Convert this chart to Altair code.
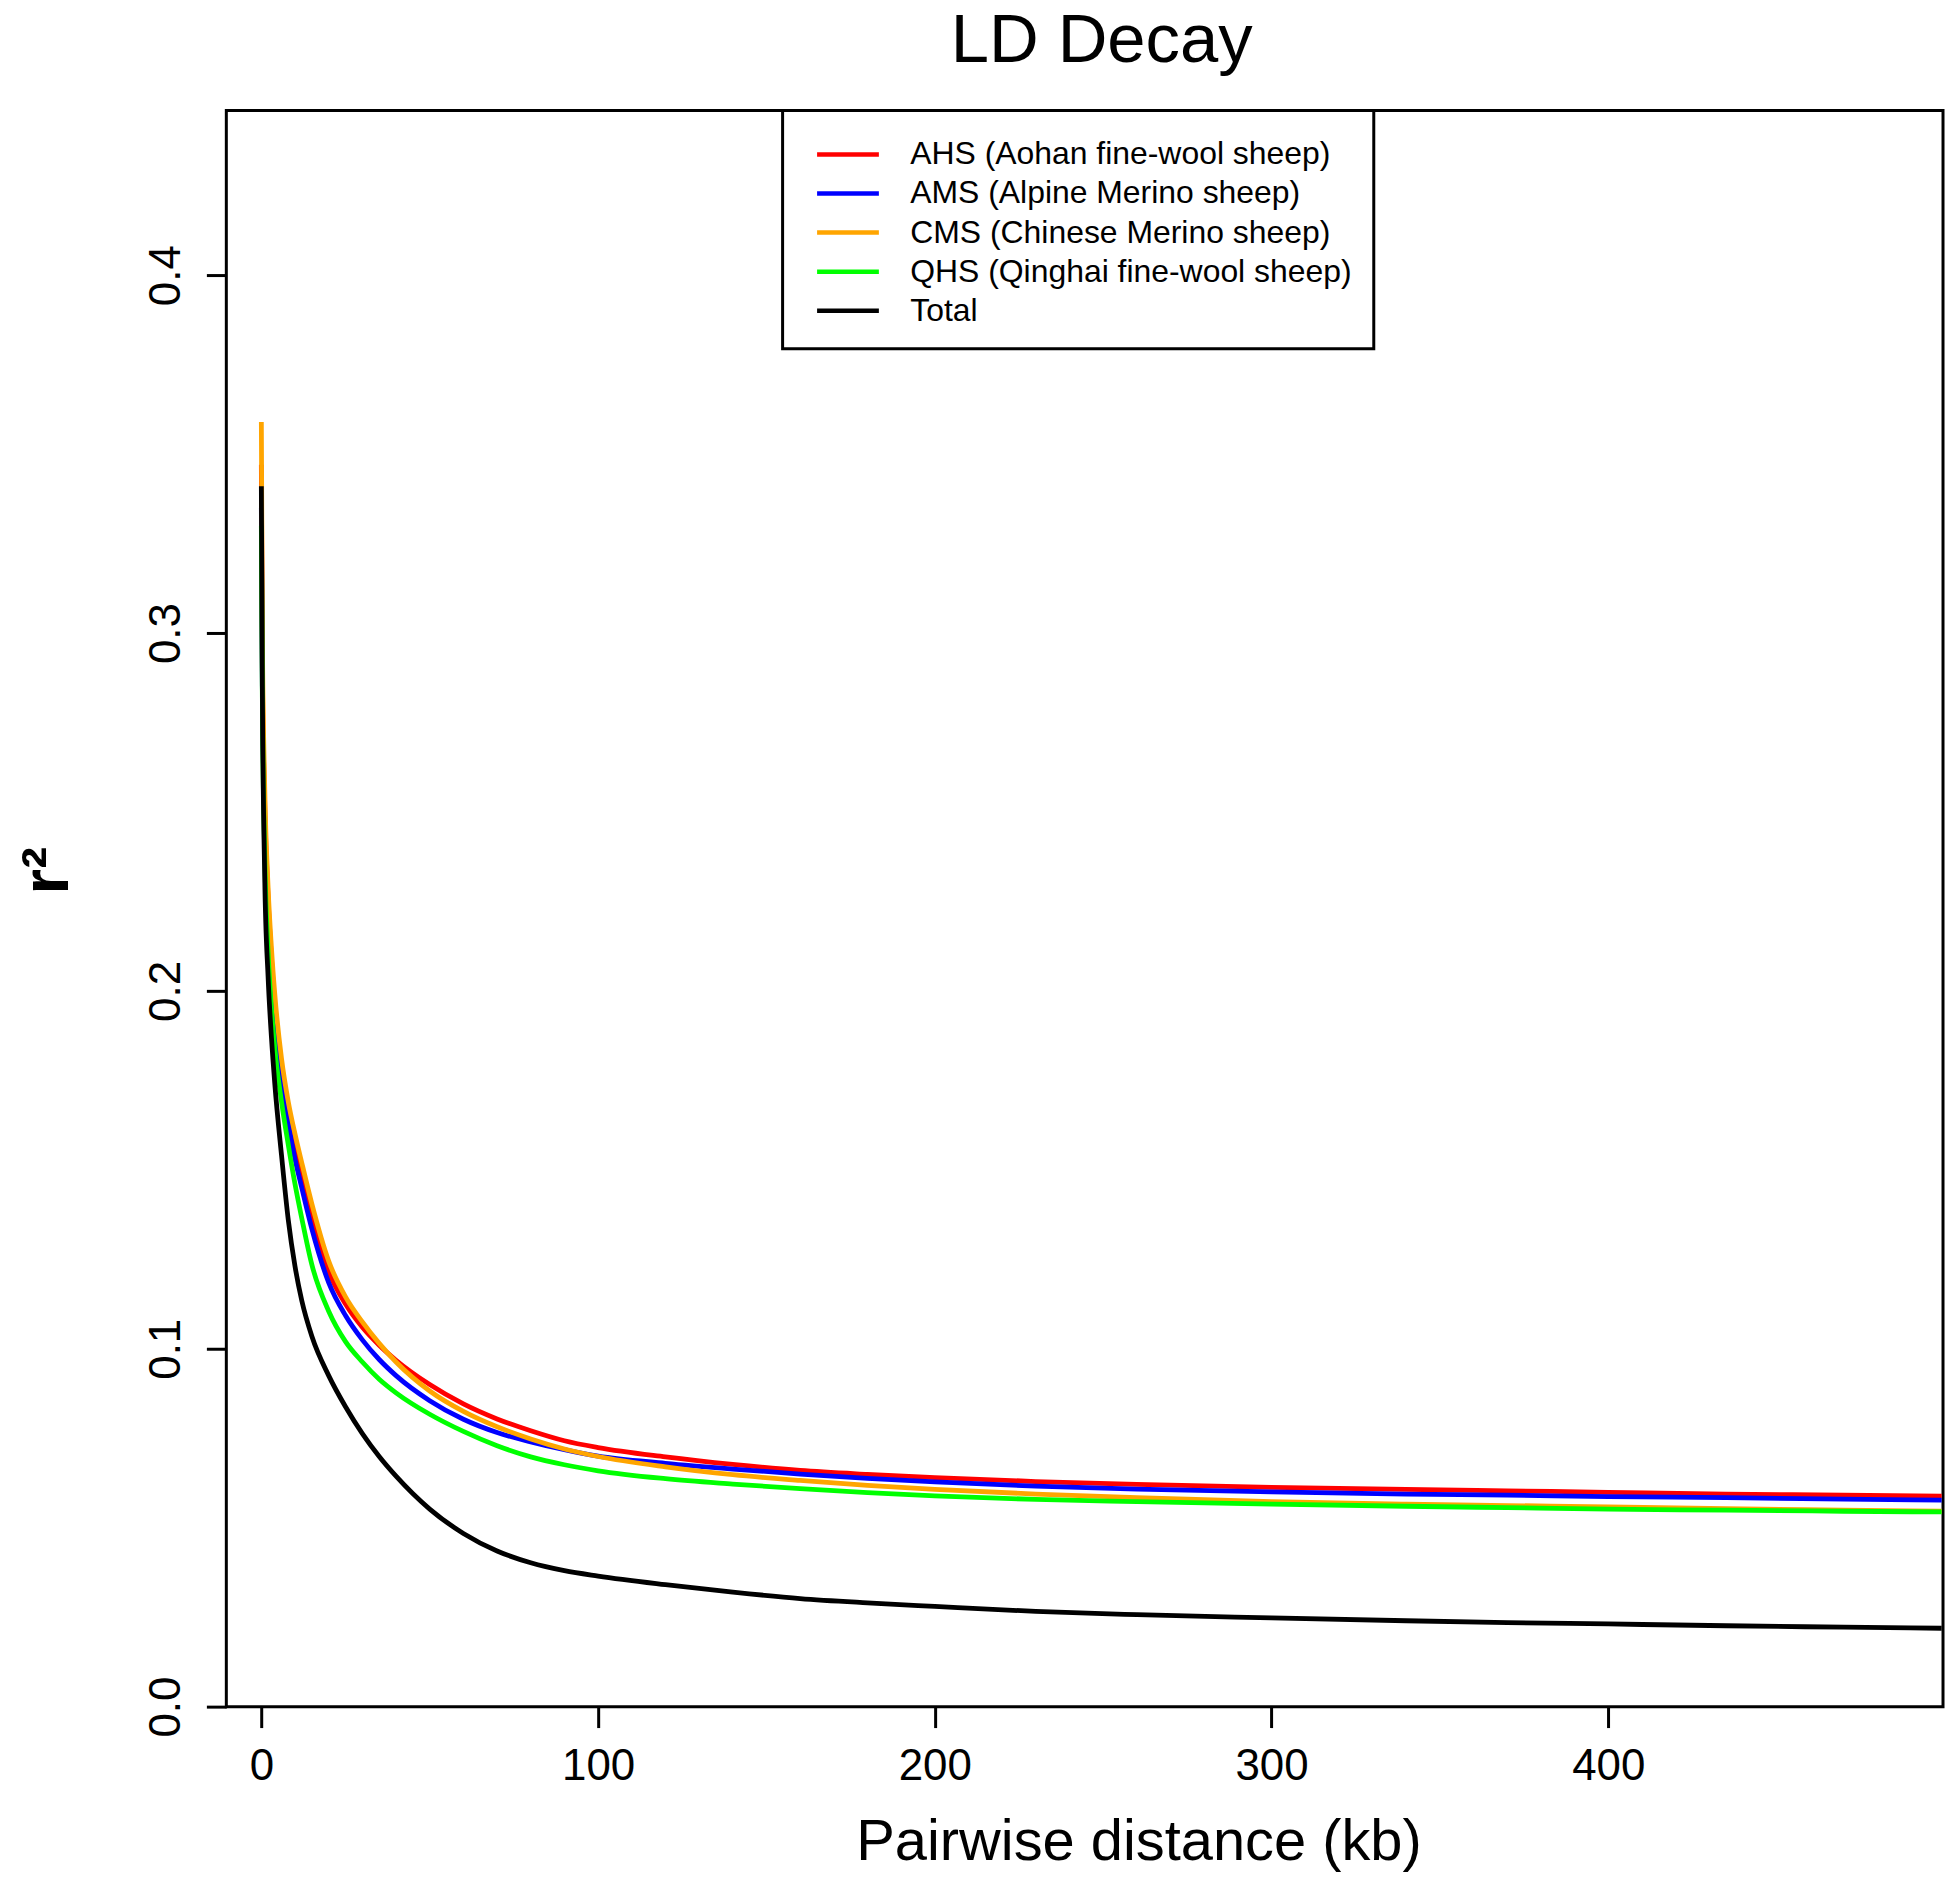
import altair as alt
import pandas as pd

distance_kb = [0, 0.3, 1, 2, 3, 4, 6, 8, 10, 12, 15, 20, 25, 30, 35, 40, 50, 60, 70,
               80, 90, 100, 120, 140, 160, 180, 200, 230, 260, 300, 340, 370, 400,
               435, 470, 499]

ahs = [0.347, 0.290, 0.252, 0.226, 0.209, 0.196, 0.179, 0.167, 0.157, 0.148, 0.1365,
       0.1215, 0.1125, 0.1060, 0.1010, 0.0968, 0.0900, 0.0846, 0.0804, 0.0771, 0.0743,
       0.0724, 0.0698, 0.0677, 0.0660, 0.0649, 0.0640, 0.0629, 0.0621, 0.0613,
       0.0607, 0.0603, 0.0599, 0.0594, 0.0591, 0.0588]

ams = [0.335, 0.285, 0.248, 0.222, 0.205, 0.191, 0.175, 0.163, 0.153, 0.145, 0.1335,
       0.1185, 0.1093, 0.1025, 0.0970, 0.0925, 0.0855, 0.0803, 0.0766, 0.0740, 0.0718,
       0.0700, 0.0680, 0.0664, 0.0650, 0.0638, 0.0628, 0.0616, 0.0608, 0.0600,
       0.0594, 0.0591, 0.0587, 0.0584, 0.0580, 0.0577]

cms = [0.359, 0.300, 0.257, 0.229, 0.212, 0.199, 0.181, 0.169, 0.160, 0.152, 0.1405,
       0.1245, 0.1145, 0.1075, 0.1015, 0.0963, 0.0882, 0.0825, 0.0782, 0.0748, 0.0720,
       0.0699, 0.0670, 0.0648, 0.0632, 0.0618, 0.0607, 0.0594, 0.0584, 0.0573,
       0.0566, 0.0562, 0.0558, 0.0553, 0.0549, 0.0546]

qhs = [0.330, 0.282, 0.238, 0.211, 0.195, 0.184, 0.169, 0.157, 0.146, 0.1365, 0.1235,
       0.1105, 0.1020, 0.0963, 0.0915, 0.0877, 0.0817, 0.0769, 0.0729, 0.0698, 0.0676,
       0.0659, 0.0637, 0.0622, 0.0609, 0.0598, 0.0589, 0.0579, 0.0573, 0.0566,
       0.0560, 0.0556, 0.0552, 0.0549, 0.0546, 0.0544]

total = [0.341, 0.285, 0.232, 0.204, 0.187, 0.174, 0.154, 0.136, 0.123, 0.1135, 0.1035,
         0.0925, 0.0838, 0.0763, 0.0699, 0.0644, 0.0552, 0.0484, 0.0435, 0.0402, 0.0380,
         0.0365, 0.0341, 0.0320, 0.0302, 0.0290, 0.0280, 0.0266, 0.0257, 0.0248,
         0.0240, 0.0235, 0.0231, 0.0226, 0.0222, 0.0219]

series_labels = ["AHS (Aohan fine-wool sheep)", "AMS (Alpine Merino sheep)",
                 "CMS (Chinese Merino sheep)", "QHS (Qinghai fine-wool sheep)", "Total"]
series_colors = ["#FF0000", "#0000FF", "#FFA500", "#00FF00", "#000000"]

x_ticks = [0, 100, 200, 300, 400]
y_ticks = [0.0, 0.1, 0.2, 0.3, 0.4]

rows = []
for label, vals in zip(series_labels, [ahs, ams, cms, qhs, total]):
    for d, v in zip(distance_kb, vals):
        rows.append({"series": label, "distance": d, "r2": v})
df = pd.DataFrame(rows)

FONT = "Liberation Sans"

chart = alt.Chart(df).mark_line(
    strokeWidth=4.8, interpolate="monotone", clip=True
).encode(
    x=alt.X("distance:Q",
            scale=alt.Scale(domain=[-10.4, 499.4], nice=False, zero=False),
            axis=alt.Axis(values=x_ticks, format="d", title="Pairwise distance (kb)",
                          titleFontSize=58, titleFontWeight="normal", titleFont=FONT,
                          titleX=915, titleY=153, titleBaseline="alphabetic",
                          titleAlign="center", titleColor="black",
                          labelFontSize=44, labelFont=FONT, labelColor="black",
                          labelBaseline="alphabetic", labelPadding=52,
                          labelFlush=False, labelOverlap=False,
                          tickSize=21, tickWidth=3, tickColor="black",
                          domain=False, grid=False)),
    y=alt.Y("r2:Q",
            scale=alt.Scale(domain=[0, 0.446], nice=False),
            axis=alt.Axis(values=y_ticks, format=".1f", title="r²",
                          titleFontSize=66, titleFontWeight="bold", titleFont=FONT,
                          titleAngle=270, titleX=-159, titleY=762,
                          titleBaseline="alphabetic", titleAlign="center",
                          titleColor="black",
                          labelFontSize=44, labelFont=FONT, labelColor="black",
                          labelAngle=270, labelAlign="center",
                          labelBaseline="alphabetic", labelPadding=27,
                          labelFlush=False, labelOverlap=False,
                          tickSize=20, tickWidth=3, tickColor="black",
                          domain=False, grid=False)),
    color=alt.Color("series:N",
                    scale=alt.Scale(domain=series_labels, range=series_colors),
                    legend=alt.Legend(orient="none", legendX=558, legendY=0,
                                      title=None,
                                      symbolType="M-0.485,0H2.71", symbolSize=1505,
                                      symbolStrokeWidth=4.5,
                                      labelFontSize=32, labelFont=FONT,
                                      labelColor="black", labelOffset=62,
                                      labelLimit=1000,
                                      padding=22, rowPadding=1.2,
                                      strokeColor="black", fillColor="white")),
).properties(
    width=1722,
    height=1601,
    background="white",
    title=alt.Title("LD Decay", fontSize=69, fontWeight="normal", font=FONT,
                    color="black", offset=-22, dx=17, baseline="alphabetic"),
    autosize=alt.AutoSizeParams(type="none"),
    padding={"left": 219, "top": 100, "right": 4, "bottom": 169},
).configure_view(
    stroke="black", strokeWidth=3
).configure_legend(
    strokeWidth=3
)

chart.save("out.html", embed_options={"renderer": "svg", "actions": False})
